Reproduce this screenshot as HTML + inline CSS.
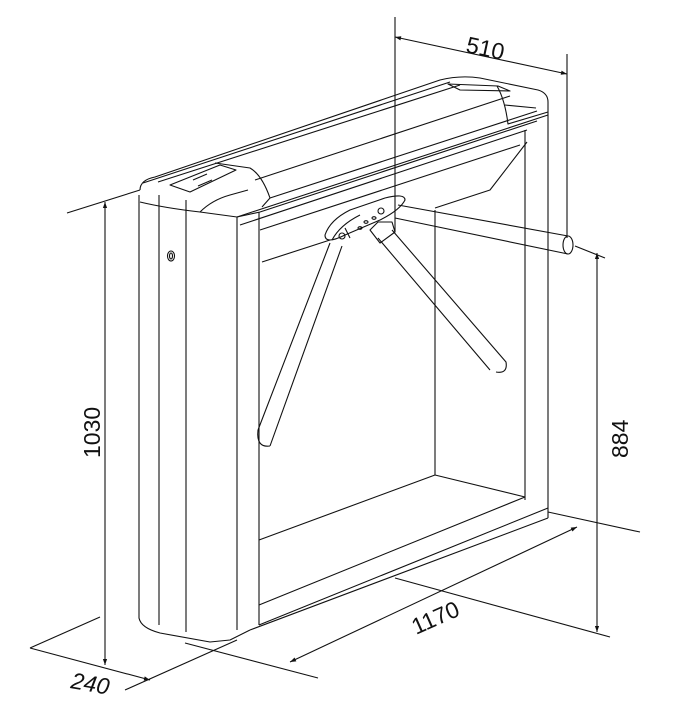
<!DOCTYPE html>
<html><head><style>
html,body{margin:0;padding:0;background:#fff;}
svg{display:block;}
text{font-family:"Liberation Sans",sans-serif;font-size:23px;fill:#111;}
</style></head><body>
<svg width="676" height="712" viewBox="0 0 676 712" xmlns="http://www.w3.org/2000/svg">
<defs>
<marker id="a" viewBox="0 0 10 10" refX="10" refY="5" markerWidth="14" markerHeight="6" orient="auto-start-reverse" markerUnits="userSpaceOnUse"><path d="M0,1.5 L10,5 L0,8.5 z" fill="#111"/></marker>
</defs>
<g fill="none" stroke="#111" stroke-width="1.1" stroke-linejoin="round">
<path d="M140,190 Q140,180 155,177 L440,80 Q460,75 480,78 L538,90 Q548,93 548,102 L548,115"/>
<path d="M143,183 L450,82"/>
<path d="M158,182 L460,85"/>
<path d="M237,217 L548,115"/>
<path d="M240,225 L527,130"/>
<path d="M260,212 L537,121"/>
<path d="M260,230 L520,145"/>
<path d="M262,262 L330,240"/>
<path d="M270,198 L537,111"/>
<path d="M255,180 L510,96"/>
<path d="M170,185 L220,165 L236,170 L190,192 z"/>
<path d="M193,180 L207,174 M198,186 L212,180"/>
<path d="M215,163 L250,168 Q262,175 270,198 L262,207"/>
<path d="M140,202 Q165,208 200,212 L237,217 L260,212"/>
<path d="M200,212 Q212,200 230,195 L248,190"/>
<path d="M448,84 L498,86 L510,91 L460,90 z"/>
<path d="M497,86 Q505,100 508,124 L548,112"/>
<path d="M505,105 L536,108"/>
<path d="M527,142 L490,190 L435,208"/>
<path d="M139,195 L139,618 Q141,628 160,633 L210,642 L230,640 L250,630"/>
<path d="M159,195 L159,625"/>
<path d="M186,200 L186,632"/>
<path d="M237,217 L237,630"/>
<path d="M259,212 L259,625"/>
<ellipse cx="171" cy="256" rx="3.5" ry="5"/>
<ellipse cx="171" cy="256" rx="1.5" ry="3"/>
<path d="M525,130 L525,500"/>
<path d="M548,115 L548,518"/>
<path d="M435,210 L435,475"/>
<path d="M259,540 L435,475 L525,497"/>
<path d="M259,605 L525,497"/>
<path d="M259,625 L548,508"/>
<path d="M250,630 L548,518"/>
<path d="M325,235 Q330,220 350,210 L385,198 Q405,193 405,200 Q400,210 380,220 L345,235 Q325,245 325,235 z"/>
<path d="M332,240 Q340,225 360,215 M350,238 L345,228"/>
<circle cx="342" cy="236" r="3"/>
<circle cx="381" cy="211" r="3"/>
<path d="M370,230 L378,222 L392,222 L395,232 L380,243 z"/>
<ellipse cx="366" cy="222" rx="2" ry="1.3"/><ellipse cx="374" cy="218" rx="2" ry="1.3"/><ellipse cx="360" cy="228" rx="2" ry="1.3"/>
<path d="M398,205 L568,236 M395,218 L568,254"/>
<ellipse cx="568" cy="245" rx="5" ry="9"/>
<path d="M330,243 L258,430 M342,246 L270,446"/>
<path d="M258,430 Q256,448 270,446"/>
<path d="M378,238 L490,370 M392,230 L506,362 Q508,374 496,372"/>
<path d="M395,17 L395,232"/>
<path d="M567,54 L567,238"/>
<path d="M395,37 L567,74" marker-start="url(#a)" marker-end="url(#a)"/>
<path d="M67,213 L140,190"/>
<path d="M105,202 L105,665" marker-start="url(#a)" marker-end="url(#a)"/>
<path d="M575,246 L605,258"/>
<path d="M597,253 L597,632" marker-start="url(#a)" marker-end="url(#a)"/>
<path d="M548,512 L640,532"/>
<path d="M395,578 L610,637"/>
<path d="M185,643 L318,678"/>
<path d="M290,662 L577,527" marker-start="url(#a)" marker-end="url(#a)"/>
<path d="M237,640 L125,690"/>
<path d="M30,648 L150,680" marker-end="url(#a)"/>
<path d="M100,617 L30,648"/>
</g>
<text transform="translate(465,52) rotate(12)">510</text>
<text transform="translate(100,458) rotate(-90)">1030</text>
<text transform="translate(628,458) rotate(-90)">884</text>
<text transform="translate(416,635) rotate(-24)">1170</text>
<text transform="translate(70,688) rotate(10)" font-style="italic">240</text>
</svg>
</body></html>
